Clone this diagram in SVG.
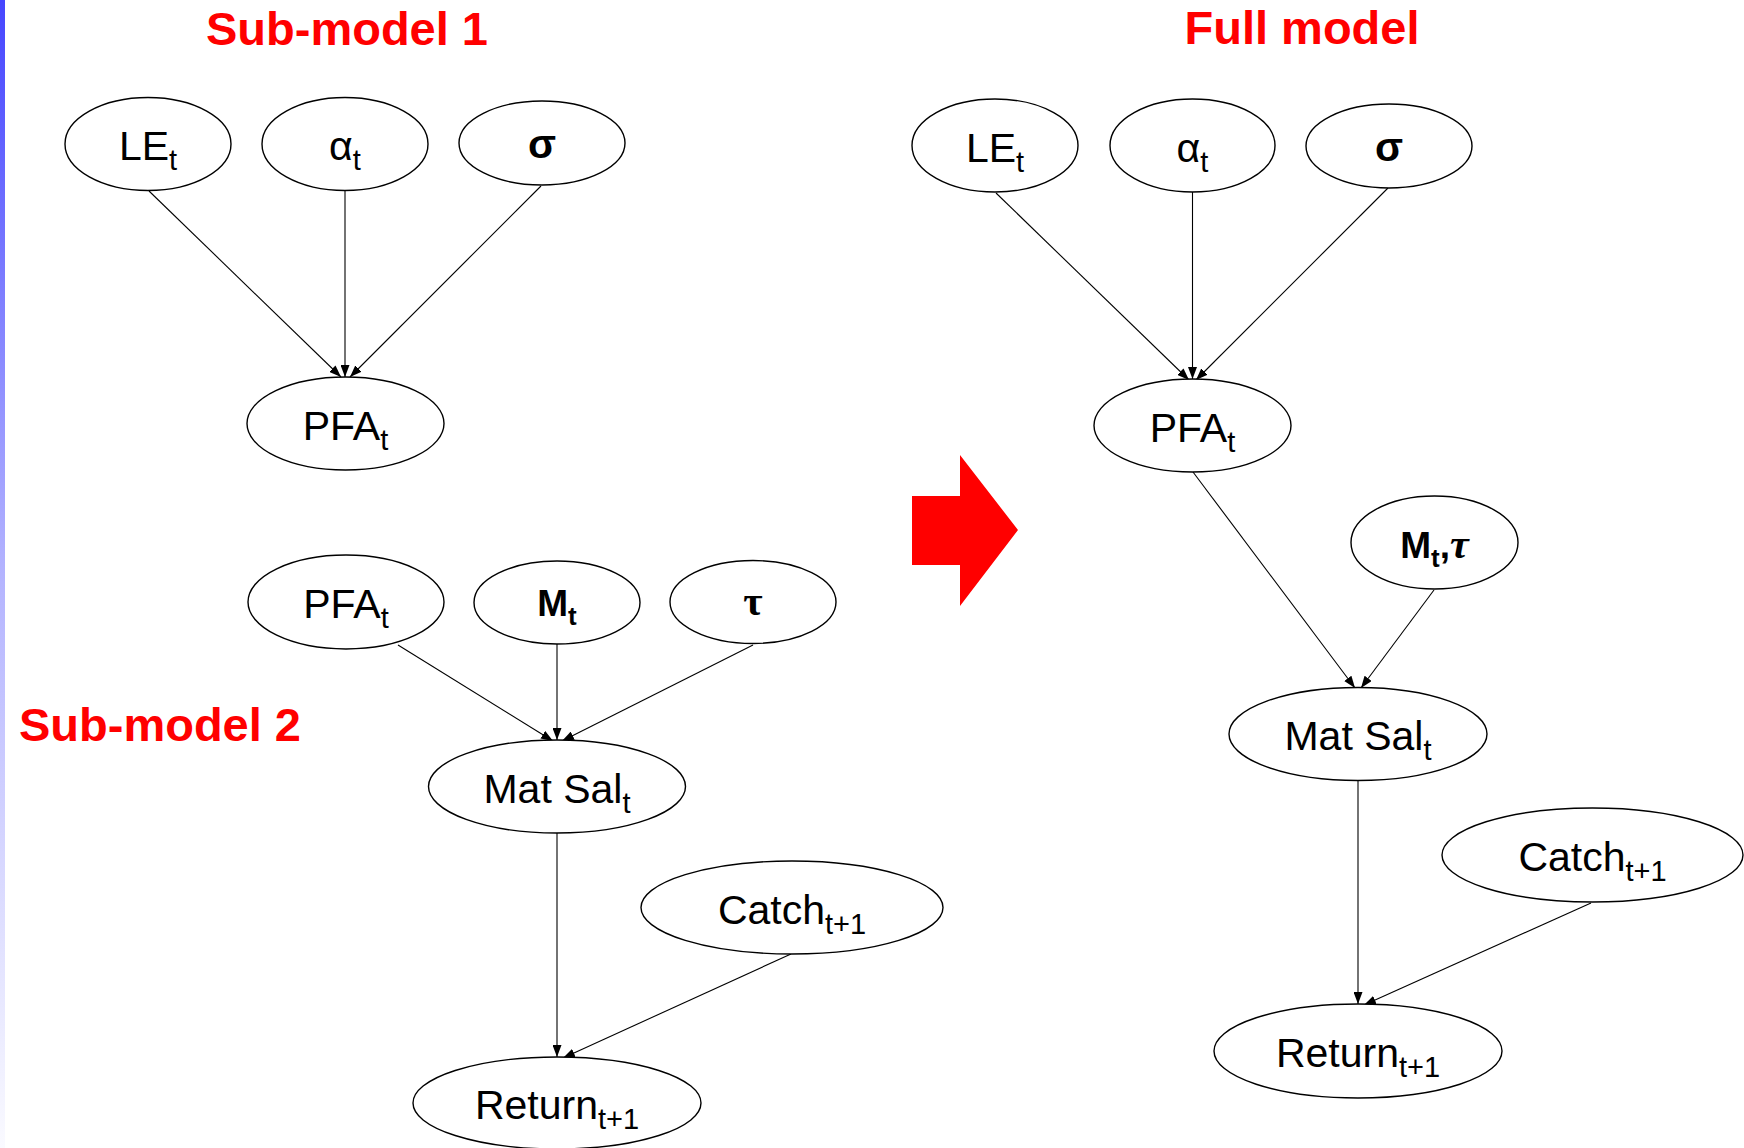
<svg xmlns="http://www.w3.org/2000/svg" width="1744" height="1148" viewBox="0 0 1744 1148">
  <style>
    .node ellipse { fill: #ffffff; stroke: #000000; stroke-width: 1.4; }
    .lbl { font-family: "Liberation Sans", Arial, sans-serif; font-size: 41px; fill: #000000; text-anchor: middle; }
    .sub { font-size: 29px; }
    .bold { font-weight: bold; }
    .greek { font-family: "Liberation Serif", "Times New Roman", serif; font-weight: bold; }
    .title { font-family: "Liberation Sans", Arial, sans-serif; font-size: 47px; font-weight: bold; fill: #ff0000; text-anchor: middle; }
    .edges line { stroke: #000000; stroke-width: 1.1; marker-end: url(#head); }
  </style>
  <defs>
    <linearGradient id="sidebar" x1="0" y1="0" x2="0" y2="1">
      <stop offset="0" stop-color="#4646ff"/>
      <stop offset="0.5" stop-color="#b4b4ff"/>
      <stop offset="1" stop-color="#fafaff"/>
    </linearGradient>
    <marker id="head" viewBox="0 0 12 9" refX="12" refY="4.5" markerWidth="12" markerHeight="9" markerUnits="userSpaceOnUse" orient="auto">
      <path d="M0,0 L12,4.5 L0,9 z" fill="#000000"/>
    </marker>
  </defs>

  <rect x="0" y="0" width="1744" height="1148" fill="#ffffff"/>
  <rect x="0" y="0" width="5" height="1148" fill="url(#sidebar)"/>

  <!-- section titles -->
  <text class="title" x="347" y="45">Sub-model 1</text>
  <text class="title" x="160" y="741">Sub-model 2</text>
  <text class="title" x="1302" y="44">Full model</text>

  <!-- block arrow between the sub-models and the full model -->
  <polygon id="transition-arrow" points="912,496 960,496 960,455 1018,530 960,606 960,565 912,565" fill="#ff0000"/>

  <!-- connectors -->
  <g id="edges" class="edges">
    <!-- sub-model 1 -->
    <line x1="149" y1="191" x2="341" y2="377"/>
    <line x1="345" y1="190" x2="345" y2="377"/>
    <line x1="541" y1="186" x2="350" y2="377"/>
    <!-- sub-model 2 -->
    <line x1="398" y1="645" x2="553" y2="741"/>
    <line x1="557" y1="644" x2="557" y2="740"/>
    <line x1="753" y1="645" x2="562" y2="741"/>
    <line x1="557" y1="833" x2="557" y2="1057"/>
    <line x1="791" y1="954" x2="563" y2="1058"/>
    <!-- full model -->
    <line x1="996" y1="193" x2="1189" y2="380"/>
    <line x1="1192.5" y1="192" x2="1192.5" y2="379"/>
    <line x1="1388" y1="188" x2="1196" y2="380"/>
    <line x1="1193" y1="472" x2="1355" y2="688"/>
    <line x1="1434" y1="590" x2="1361" y2="688"/>
    <line x1="1358" y1="780" x2="1358" y2="1004"/>
    <line x1="1591" y1="903" x2="1364" y2="1005"/>
  </g>

  <!-- sub-model 1 nodes -->
  <g id="s1-le" class="node">
    <ellipse cx="148" cy="144" rx="83" ry="46.5"/>
    <text class="lbl" x="148" y="160">LE<tspan class="sub" dy="10">t</tspan></text>
  </g>
  <g id="s1-alpha" class="node">
    <ellipse cx="345" cy="144" rx="83" ry="46.5"/>
    <text class="lbl" x="345" y="160">α<tspan class="sub" dy="10">t</tspan></text>
  </g>
  <g id="s1-sigma" class="node">
    <ellipse cx="542" cy="143" rx="83" ry="42"/>
    <text class="lbl bold" x="542" y="158">σ</text>
  </g>
  <g id="s1-pfa" class="node">
    <ellipse cx="345.5" cy="423.5" rx="98.5" ry="46.5"/>
    <text class="lbl" x="345.5" y="440">PFA<tspan class="sub" dy="10">t</tspan></text>
  </g>

  <!-- sub-model 2 nodes -->
  <g id="s2-pfa" class="node">
    <ellipse cx="346" cy="602" rx="98" ry="47"/>
    <text class="lbl" x="346" y="618">PFA<tspan class="sub" dy="10">t</tspan></text>
  </g>
  <g id="s2-m" class="node">
    <ellipse cx="557" cy="602.5" rx="83" ry="41.5"/>
    <text class="lbl bold" x="557" y="616" style="font-size:37px">M<tspan class="sub" dy="9" style="font-size:26px">t</tspan></text>
  </g>
  <g id="s2-tau" class="node">
    <ellipse cx="753" cy="602" rx="83" ry="41.5"/>
    <text class="lbl greek" x="753" y="615" style="font-size:42px">τ</text>
  </g>
  <g id="s2-matsal" class="node">
    <ellipse cx="557" cy="786.5" rx="128.5" ry="46.5"/>
    <text class="lbl" x="557" y="803">Mat Sal<tspan class="sub" dy="10">t</tspan></text>
  </g>
  <g id="s2-catch" class="node">
    <ellipse cx="792" cy="907.5" rx="151" ry="46.5"/>
    <text class="lbl" x="792" y="924">Catch<tspan class="sub" dy="10">t+1</tspan></text>
  </g>
  <g id="s2-return" class="node">
    <ellipse cx="557" cy="1103" rx="144" ry="46"/>
    <text class="lbl" x="557" y="1119">Return<tspan class="sub" dy="10">t+1</tspan></text>
  </g>

  <!-- full model nodes -->
  <g id="f-le" class="node">
    <ellipse cx="995" cy="145.5" rx="83" ry="46.5"/>
    <text class="lbl" x="995" y="162">LE<tspan class="sub" dy="10">t</tspan></text>
  </g>
  <g id="f-alpha" class="node">
    <ellipse cx="1192.5" cy="145.5" rx="82.5" ry="46.5"/>
    <text class="lbl" x="1192.5" y="162">α<tspan class="sub" dy="10">t</tspan></text>
  </g>
  <g id="f-sigma" class="node">
    <ellipse cx="1389" cy="146" rx="83" ry="42"/>
    <text class="lbl bold" x="1389" y="161">σ</text>
  </g>
  <g id="f-pfa" class="node">
    <ellipse cx="1192.5" cy="425.5" rx="98.5" ry="46.5"/>
    <text class="lbl" x="1192.5" y="442">PFA<tspan class="sub" dy="10">t</tspan></text>
  </g>
  <g id="f-mtau" class="node">
    <ellipse cx="1434.5" cy="542.5" rx="83.5" ry="46.5"/>
    <text class="lbl bold" x="1434.5" y="558" style="font-size:37px">M<tspan class="sub" dy="9" style="font-size:26px">t</tspan><tspan dy="-9">,</tspan><tspan class="greek" font-style="italic" style="font-size:42px">τ</tspan></text>
  </g>
  <g id="f-matsal" class="node">
    <ellipse cx="1358" cy="734" rx="129" ry="46.5"/>
    <text class="lbl" x="1358" y="750">Mat Sal<tspan class="sub" dy="10">t</tspan></text>
  </g>
  <g id="f-catch" class="node">
    <ellipse cx="1592.5" cy="855" rx="150.5" ry="47"/>
    <text class="lbl" x="1592.5" y="871">Catch<tspan class="sub" dy="10">t+1</tspan></text>
  </g>
  <g id="f-return" class="node">
    <ellipse cx="1358" cy="1051" rx="144" ry="47"/>
    <text class="lbl" x="1358" y="1067">Return<tspan class="sub" dy="10">t+1</tspan></text>
  </g>
</svg>
